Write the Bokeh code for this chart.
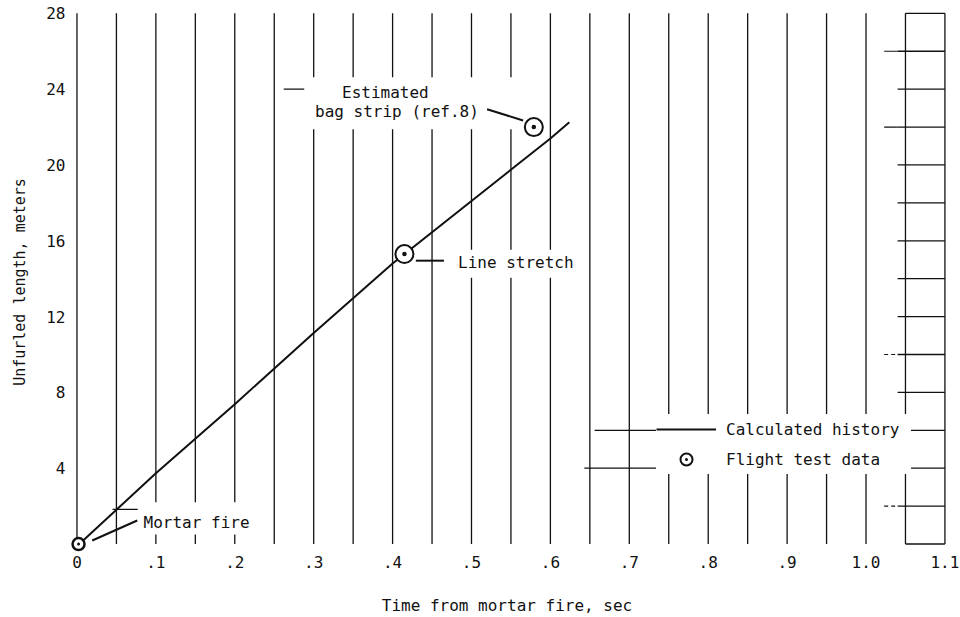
import numpy as np
from bokeh.plotting import figure
from bokeh.models import Label, Legend, LegendItem, FixedTicker, Range1d
from bokeh.embed import file_html
from bokeh.resources import INLINE

# ---- data ----
calc_time = [0.003, 0.1, 0.2, 0.3, 0.4, 0.5, 0.6, 0.624]
calc_length = [0.0, 3.73, 7.38, 11.14, 14.8, 18.1, 21.4, 22.25]

flight_time = [0.002, 0.415, 0.579]
flight_length = [0.0, 15.3, 22.0]

x_ticks = [0.0, 0.1, 0.2, 0.3, 0.4, 0.5, 0.6, 0.7, 0.8, 0.9, 1.0, 1.1]
x_tick_labels = ["0", ".1", ".2", ".3", ".4", ".5", ".6", ".7", ".8", ".9", "1.0", "1.1"]
y_ticks = [4, 8, 12, 16, 20, 24, 28]
y_tick_labels = ["4", "8", "12", "16", "20", "24", "28"]

FONT = "DejaVu Sans Mono"
INK = "#111111"

p = figure(width=960, height=617,
           x_range=Range1d(-0.012, 1.102), y_range=Range1d(-0.5, 28.15),
           output_backend="svg", toolbar_location=None,
           min_border_left=67, min_border_right=14,
           min_border_top=10, min_border_bottom=64)
p.grid.visible = False
p.outline_line_color = None
p.background_fill_color = "white"
p.border_fill_color = "white"

# axes
p.xaxis.ticker = FixedTicker(ticks=x_ticks)
p.xaxis.major_label_overrides = dict(zip(x_ticks, x_tick_labels))
p.yaxis.ticker = FixedTicker(ticks=y_ticks)
p.yaxis.major_label_overrides = dict(zip(y_ticks, y_tick_labels))
for ax in p.axis:
    ax.axis_line_color = None
    ax.major_tick_line_color = None
    ax.minor_tick_line_color = None
    ax.major_tick_out = 0
    ax.major_tick_in = 0
    ax.minor_tick_out = 0
    ax.minor_tick_in = 0
    ax.major_label_text_font = FONT
    ax.major_label_text_font_size = "16px"
    ax.major_label_text_color = INK
    ax.axis_label_text_font = FONT
    ax.axis_label_text_font_style = "normal"
    ax.axis_label_text_color = INK
p.xaxis.major_label_standoff = 2
p.yaxis.major_label_standoff = 2
p.xaxis.axis_label = "Time from mortar fire, sec"
p.xaxis.axis_label_text_font_size = "16px"
p.xaxis.axis_label_standoff = 25
p.yaxis.axis_label = "Unfurled length, meters"
p.yaxis.axis_label_text_font_size = "15px"
p.yaxis.axis_label_standoff = 14

# graph-paper lines
grid_x = np.round(np.arange(0, 1.1001, 0.05), 2)
p.segment(x0=grid_x, y0=0, x1=grid_x, y1=28, line_color=INK, line_width=1.3)

col_y = [2, 8, 10, 12, 14, 16, 18, 20, 22, 24, 26]
p.segment(x0=1.04, y0=col_y, x1=1.1, y1=col_y, line_color=INK, line_width=1.3)
p.segment(x0=1.05, y0=[0, 28], x1=1.1, y1=[0, 28], line_color=INK, line_width=1.3)
p.segment(x0=1.023, y0=[22, 26], x1=1.04, y1=[22, 26], line_color=INK, line_width=1.2)
p.segment(x0=1.023, y0=[2, 10], x1=1.04, y1=[2, 10], line_color=INK, line_width=1.2,
          line_dash="4 3")
p.segment(x0=[0.643, 0.656], y0=[4, 6], x1=[1.1, 1.1], y1=[4, 6], line_color=INK, line_width=1.3)
p.segment(x0=[0.262, 0.045], y0=[24, 1.83], x1=[0.288, 0.077], y1=[24, 1.83],
          line_color=INK, line_width=1.2)

# white clearings behind the annotation texts
p.quad(left=[0.29, 0.469, 0.0806], right=[0.569, 0.641, 0.2303],
       bottom=[21.88, 14.05, 0.5], top=[24.63, 15.53, 2.2],
       fill_color="white", line_color=None)

# data
calc_r = p.line(calc_time, calc_length, line_color=INK, line_width=2)
p.scatter(flight_time[:1], flight_length[:1], marker="circle_dot", size=12,
          line_color=INK, line_width=2.5, fill_color="white")
flight_r = p.scatter(flight_time[1:], flight_length[1:], marker="circle_dot", size=18,
                     line_color=INK, line_width=2, fill_color="white")

# leader lines
p.segment(x0=[0.0193, 0.4295, 0.5197], y0=[0.185, 14.95, 22.94],
          x1=[0.0764, 0.4651, 0.5654], y1=[1.24, 14.95, 22.35],
          line_color=INK, line_width=2)

def lab(x, y, text, align="left"):
    p.add_layout(Label(x=x, y=y, text=text, text_font=FONT, text_font_size="16px",
                       text_color=INK, text_align=align, text_baseline="middle"))

lab(0.0844, 1.14, "Mortar fire")
lab(0.4829, 14.84, "Line stretch")
lab(0.3909, 23.84, "Estimated", "center")
lab(0.4055, 22.83, "bag strip (ref.8)", "center")

legend = Legend(items=[LegendItem(label="Calculated history", renderers=[calc_r]),
                       LegendItem(label="Flight test data", renderers=[flight_r])],
                location=(589, 79), glyph_width=60, glyph_height=30, spacing=0,
                padding=8, margin=0, label_standoff=10, label_width=185,
                label_text_font=FONT, label_text_font_size="16px", label_text_color=INK,
                background_fill_color="white", background_fill_alpha=1.0,
                border_line_color=None)
p.add_layout(legend)

open("out.html", "w").write(file_html(p, INLINE))
